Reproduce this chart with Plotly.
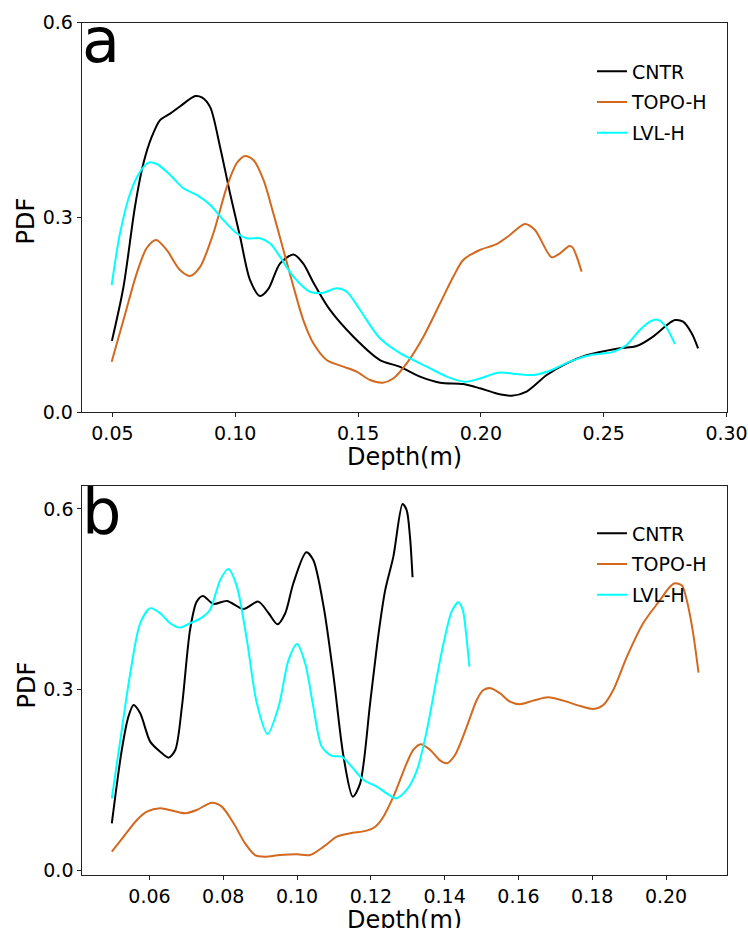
import plotly.graph_objects as go

# ---- panel a: depth PDFs ----
a_cntr_x = [0.0498, 0.0545, 0.0592, 0.0626, 0.0660, 0.0694, 0.0735, 0.0775, 0.0837, 0.0864,
            0.0898, 0.0938, 0.0979, 0.1020, 0.1060, 0.1101, 0.1135, 0.1182, 0.1237, 0.1277,
            0.1318, 0.1385, 0.1482, 0.1589, 0.1671, 0.1752, 0.1834, 0.1928, 0.1996, 0.2064,
            0.2125, 0.2186, 0.2268, 0.2349, 0.2430, 0.2512, 0.2566, 0.2634, 0.2701, 0.2756,
            0.2790, 0.2823, 0.2858, 0.2884]
a_cntr_y = [0.110, 0.193, 0.317, 0.383, 0.424, 0.450, 0.460, 0.471, 0.487, 0.485,
            0.470, 0.409, 0.337, 0.270, 0.204, 0.179, 0.190, 0.229, 0.243, 0.229,
            0.200, 0.158, 0.116, 0.0805, 0.070, 0.055, 0.0456, 0.0436, 0.037, 0.029,
            0.0256, 0.032, 0.0575, 0.0754, 0.088, 0.095, 0.0985, 0.102, 0.1165, 0.134,
            0.142, 0.1395, 0.1217, 0.0985]

a_topo_x = [0.0497, 0.0545, 0.0599, 0.0639, 0.0678, 0.0721, 0.0775, 0.0816, 0.0857, 0.0911,
            0.0966, 0.1006, 0.1040, 0.1074, 0.1115, 0.1155, 0.1196, 0.1237, 0.1277, 0.1318,
            0.1372, 0.1440, 0.1494, 0.1549, 0.1600, 0.1643, 0.1698, 0.1766, 0.1834, 0.1888,
            0.1928, 0.1996, 0.2064, 0.2118, 0.2179, 0.2220, 0.2288, 0.2322, 0.2360, 0.2373,
            0.2390, 0.2410]
a_topo_y = [0.078, 0.142, 0.214, 0.2526, 0.2654, 0.250, 0.219, 0.210, 0.224, 0.2757,
            0.3475, 0.3835, 0.3947, 0.3886, 0.3578, 0.3065, 0.250, 0.1935, 0.142, 0.1063,
            0.0806, 0.0703, 0.0626, 0.0497, 0.0456, 0.052, 0.0754, 0.1165, 0.168, 0.209,
            0.2346, 0.250, 0.259, 0.273, 0.290, 0.2808, 0.2387, 0.2449, 0.256, 0.254,
            0.2397, 0.2166]

a_lvl_x = [0.0497, 0.0531, 0.0572, 0.0613, 0.0647, 0.0681, 0.0735, 0.0789, 0.0843, 0.0898,
           0.0952, 0.1006, 0.1047, 0.1101, 0.1142, 0.1182, 0.1237, 0.1304, 0.1359, 0.1413,
           0.1454, 0.1508, 0.1562, 0.1589, 0.1671, 0.1793, 0.1861, 0.1935, 0.1996, 0.2071,
           0.2146, 0.2213, 0.2281, 0.2362, 0.2444, 0.2539, 0.2593, 0.2647, 0.2688, 0.2715,
           0.2749, 0.2790]
a_lvl_y = [0.196, 0.2757, 0.337, 0.3706, 0.3845, 0.3824, 0.3655, 0.345, 0.3347, 0.3193,
           0.296, 0.2757, 0.268, 0.268, 0.260, 0.2397, 0.2089, 0.1857, 0.1842, 0.191,
           0.1857, 0.1576, 0.1268, 0.114, 0.091, 0.0678, 0.055, 0.047, 0.052, 0.061,
           0.059, 0.0575, 0.064, 0.078, 0.088, 0.093, 0.1037, 0.1268, 0.1395, 0.143,
           0.134, 0.105]

# ---- panel b: depth PDFs ----
b_cntr_x = [0.0498, 0.0525, 0.0543, 0.0557, 0.0575, 0.0602, 0.0629, 0.0652, 0.0670, 0.0688,
            0.0710, 0.0728, 0.0745, 0.0773, 0.0810, 0.0855, 0.0895, 0.0923, 0.0947, 0.0968,
            0.0990, 0.1025, 0.1044, 0.1072, 0.1099, 0.1126, 0.1151, 0.1171, 0.1198, 0.1221,
            0.1239, 0.1261, 0.1286, 0.1297, 0.1306, 0.1313]
b_cntr_y = [0.0776, 0.1994, 0.2548, 0.2742, 0.2604, 0.2133, 0.1966, 0.1867, 0.1994, 0.2714,
            0.399, 0.4459, 0.4554, 0.4421, 0.4471, 0.4338, 0.4459, 0.4266, 0.4083, 0.4266,
            0.4765, 0.528, 0.515, 0.4377, 0.3213, 0.1883, 0.1218, 0.144, 0.277, 0.3933,
            0.4654, 0.5207, 0.608, 0.598, 0.554, 0.4864]

b_topo_x = [0.0498, 0.0530, 0.0566, 0.0593, 0.0629, 0.0665, 0.0697, 0.0728, 0.0769, 0.0796,
            0.0828, 0.0859, 0.0886, 0.0913, 0.0954, 0.1000, 0.1035, 0.1072, 0.1108, 0.1144,
            0.1189, 0.1212, 0.1234, 0.1261, 0.1297, 0.1315, 0.1335, 0.1361, 0.1388, 0.1406,
            0.1428, 0.1460, 0.1487, 0.1505, 0.1525, 0.1550, 0.1577, 0.1604, 0.1640, 0.1681,
            0.1722, 0.1767, 0.1803, 0.1830, 0.1857, 0.1894, 0.1938, 0.1984, 0.2011, 0.2024,
            0.2043, 0.2056, 0.2072, 0.2088]
b_topo_y = [0.0305, 0.0554, 0.0831, 0.0969, 0.1025, 0.098, 0.0942, 0.0997, 0.1119, 0.1053,
            0.0776, 0.0443, 0.0249, 0.0222, 0.0249, 0.026, 0.0249, 0.0388, 0.0554, 0.061,
            0.0654, 0.072, 0.0886, 0.1218, 0.1773, 0.1994, 0.2089, 0.1994, 0.1817, 0.1773,
            0.1911, 0.2382, 0.2825, 0.2991, 0.302, 0.2936, 0.2797, 0.2754, 0.2814, 0.287,
            0.2814, 0.2726, 0.2676, 0.2742, 0.2991, 0.3545, 0.410, 0.4487, 0.4709, 0.4765,
            0.4728, 0.4487, 0.399, 0.328]

b_lvl_x = [0.0498, 0.0521, 0.0548, 0.0575, 0.0602, 0.0629, 0.0656, 0.0683, 0.0710, 0.0742,
           0.0764, 0.0792, 0.0814, 0.0837, 0.0864, 0.0891, 0.0920, 0.0950, 0.0977, 0.1000,
           0.1022, 0.1044, 0.1067, 0.1094, 0.1121, 0.1148, 0.1180, 0.1216, 0.1243, 0.1268,
           0.1297, 0.1325, 0.1352, 0.1374, 0.1397, 0.1419, 0.1437, 0.1449, 0.1458, 0.1467]
b_lvl_y = [0.119, 0.216, 0.327, 0.410, 0.435, 0.4266, 0.410, 0.4028, 0.410, 0.4194,
           0.4321, 0.482, 0.5003, 0.4709, 0.3823, 0.277, 0.226, 0.2714, 0.349, 0.3756,
           0.3435, 0.2714, 0.205, 0.1895, 0.1883, 0.1717, 0.1496, 0.1385, 0.1274, 0.119,
           0.133, 0.166, 0.2327, 0.3047, 0.3767, 0.4293, 0.4449, 0.4321, 0.3933, 0.338]

series_names = ["CNTR", "TOPO-H", "LVL-H"]
series_colors = ["black", "#d2691e", "cyan"]

a_ticks_x = [0.05, 0.10, 0.15, 0.20, 0.25, 0.30]
b_ticks_x = [0.06, 0.08, 0.10, 0.12, 0.14, 0.16, 0.18, 0.20]
ticks_y = [0.0, 0.3, 0.6]

FONT = "DejaVu Sans"
W, H = 748, 928

fig = go.Figure()

panels = [
    ("x", "y", "legend", [(a_cntr_x, a_cntr_y), (a_topo_x, a_topo_y), (a_lvl_x, a_lvl_y)]),
    ("x2", "y2", "legend2", [(b_cntr_x, b_cntr_y), (b_topo_x, b_topo_y), (b_lvl_x, b_lvl_y)]),
]
for xa, ya, leg, data in panels:
    for (xs, ys), name, col in zip(data, series_names, series_colors):
        fig.add_trace(go.Scatter(
            x=xs, y=ys, mode="lines", name=name, xaxis=xa, yaxis=ya,
            legend=leg, legendgroup=leg + name,
            line=dict(color=col, width=2, shape="spline", smoothing=0.8),
        ))


def px_x(p):
    return p / W


def px_y(p):
    return 1 - p / H


axis_common = dict(
    showline=True, linecolor="#222", linewidth=1, mirror=True,
    ticks="outside", ticklen=4, tickwidth=1, tickcolor="#222",
    showgrid=False, zeroline=False, automargin=False,
    tickfont=dict(family=FONT, size=19, color="black"),
)


def label(text, x, y, size, xanchor="left", yanchor="top", angle=0):
    return dict(text=text, xref="paper", yref="paper", x=px_x(x), y=px_y(y),
                xanchor=xanchor, yanchor=yanchor, textangle=angle, showarrow=False,
                font=dict(family=FONT, size=size, color="black"))


fig.update_layout(
    width=W, height=H,
    margin=dict(l=0, r=0, t=0, b=0, autoexpand=False),
    paper_bgcolor="white", plot_bgcolor="white",
    font=dict(family=FONT, color="black"),
    xaxis=dict(domain=[px_x(81.7), px_x(727.3)], anchor="y", range=[0.0375, 0.3003],
               tickvals=a_ticks_x, tickformat=".2f", **axis_common),
    yaxis=dict(domain=[px_y(412.3), px_y(22.7)], anchor="x", range=[0, 0.6],
               tickvals=ticks_y, tickformat=".1f", **axis_common),
    xaxis2=dict(domain=[px_x(82.3), px_x(727.3)], anchor="y2", range=[0.0418, 0.2166],
                tickvals=b_ticks_x, tickformat=".2f", **axis_common),
    yaxis2=dict(domain=[px_y(874.7), px_y(486)], anchor="x2", range=[-0.0078, 0.638],
                tickvals=ticks_y, tickformat=".1f", **axis_common),
    legend=dict(x=px_x(592), y=px_y(52.5), xanchor="left", yanchor="top",
                bgcolor="rgba(0,0,0,0)", borderwidth=0, tracegroupgap=3,
                font=dict(family=FONT, size=19, color="black")),
    legend2=dict(x=px_x(592), y=px_y(514.5), xanchor="left", yanchor="top",
                 bgcolor="rgba(0,0,0,0)", borderwidth=0, tracegroupgap=3,
                 font=dict(family=FONT, size=19, color="black")),
    annotations=[
        label("a", 80, 1.5, 62),
        label("b", 80, 473, 62),
        label("Depth(m)", 404.5, 440.5, 24, xanchor="center"),
        label("Depth(m)", 404.8, 904, 24, xanchor="center"),
        label("PDF", 26, 221.5, 24, xanchor="center", yanchor="middle", angle=-90),
        label("PDF", 26, 685.5, 24, xanchor="center", yanchor="middle", angle=-90),
    ],
)

fig.write_html("out.html")
